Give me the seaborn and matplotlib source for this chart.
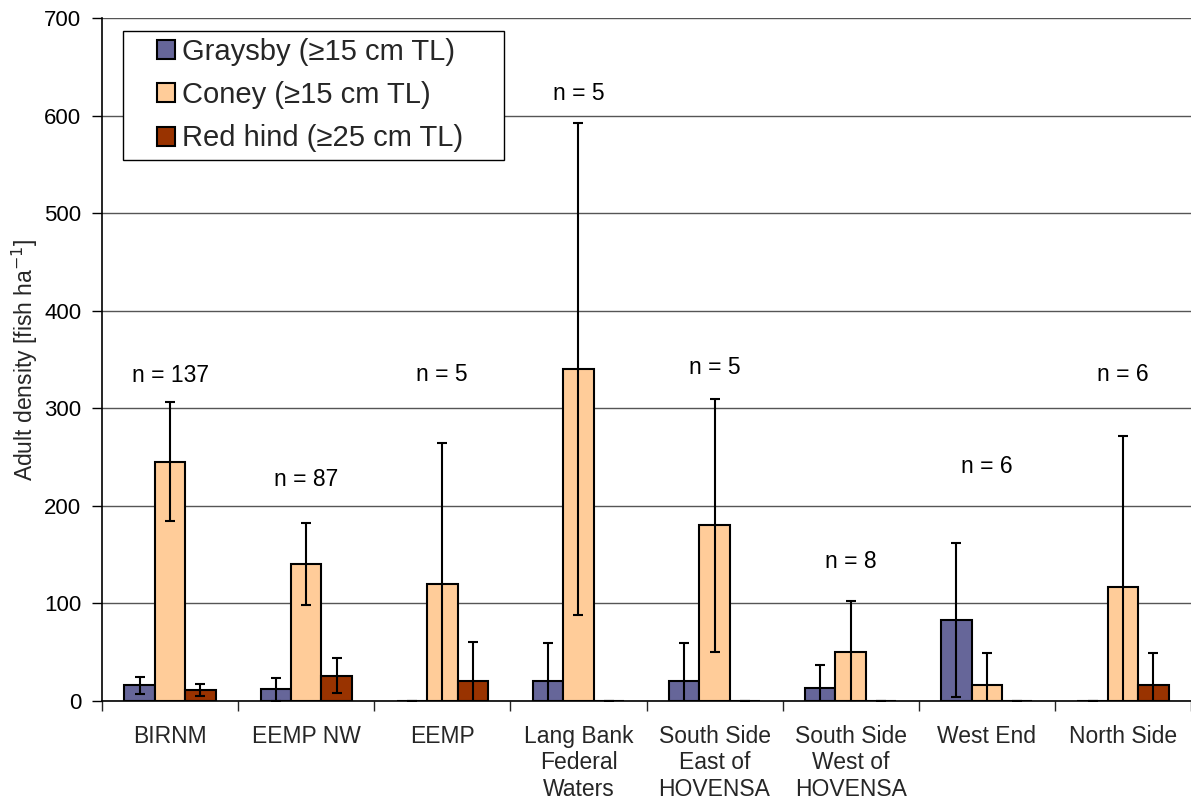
import matplotlib
matplotlib.use("Agg")
import matplotlib.pyplot as plt
from matplotlib.ticker import FixedLocator
from matplotlib.patches import Rectangle
import seaborn as sns
import pandas as pd
import numpy as np

sites = ["BIRNM", "EEMP NW", "EEMP", "Lang Bank\nFederal\nWaters",
         "South Side\nEast of\nHOVENSA", "South Side\nWest of\nHOVENSA",
         "West End", "North Side"]
species = ["Graysby (≥15 cm TL)", "Coney (≥15 cm TL)", "Red hind (≥25 cm TL)"]
graysby = [16, 12, 0, 20, 20, 13, 83, 0]
graysby_err = [9, 12, 0, 39, 39, 24, 79, 0]
coney = [245, 140, 120, 340, 180, 50, 16.5, 116.5]
coney_err = [61, 42, 144, 252, 130, 52, 33, 155]
red_hind = [11, 26, 20, 0, 0, 0, 0, 16.5]
red_hind_err = [6, 18, 40, 0, 0, 0, 0, 33]
n_labels = ["n = 137", "n = 87", "n = 5", "n = 5", "n = 5", "n = 8", "n = 6", "n = 6"]
n_label_y = [334, 227, 335, 623, 342, 143, 240, 335]
colors = ["#666699", "#FFCC99", "#993300"]
yticks = [0, 100, 200, 300, 400, 500, 600, 700]

sns.set_style("white")
plt.rcParams['font.family'] = ['Liberation Sans', 'DejaVu Sans']

values = [graysby, coney, red_hind]
errors = [graysby_err, coney_err, red_hind_err]
rows = []
for sp, vals in zip(species, values):
    for s, v in zip(sites, vals):
        rows.append({"site": s, "species": sp, "value": v})
df = pd.DataFrame(rows)

W, H = 1191, 801
fig = plt.figure(figsize=(W / 100, H / 100), dpi=100)
ax = fig.add_axes([102 / W, 100 / H, 1089 / W, 683 / H])

sns.barplot(data=df, x="site", y="value", hue="species", order=sites,
            hue_order=species, palette=colors, saturation=1, width=0.67,
            edgecolor="black", linewidth=1.5, errorbar=None, ax=ax, zorder=2)

for cont, errs in zip(ax.containers, errors):
    xs = [p.get_x() + p.get_width() / 2 for p in cont.patches]
    hs = [p.get_height() for p in cont.patches]
    ax.errorbar(xs, hs, yerr=errs, fmt='none', ecolor='black',
                elinewidth=1.5, capsize=3.6, capthick=1.5, zorder=3)

for i, (lab, yy) in enumerate(zip(n_labels, n_label_y)):
    ax.text(i, yy, lab, ha='center', va='center', fontsize=16.5, color='black')

ax.set_ylim(0, 700)
ax.set_xlim(-0.5, len(sites) - 0.5)
ax.set_yticks(yticks)
ax.tick_params(axis='y', labelsize=16, length=7, width=1, direction='out',
               left=True, colors='black', pad=8)
ax.tick_params(axis='x', which='major', length=0, labelsize=16.5, pad=17)
ax.xaxis.set_minor_locator(FixedLocator(np.arange(-0.5, len(sites), 1.0)))
ax.tick_params(axis='x', which='minor', length=7, width=1, direction='out', bottom=True)
ax.yaxis.grid(True, color='#555555', linewidth=1, zorder=0)
ax.set_axisbelow(True)
ax.set_xlabel("")
ax.set_ylabel("Adult density [fish ha$^{-1}$]", fontsize=16.5, labelpad=3)
for s in ['top', 'right']:
    ax.spines[s].set_visible(False)
for s in ['left', 'bottom']:
    ax.spines[s].set_color('black')
    ax.spines[s].set_linewidth(1.2)

leg = ax.legend(loc='upper left', bbox_to_anchor=(157 / W, 1 - 38 / H),
                bbox_transform=fig.transFigure, fontsize=21,
                frameon=False, handlelength=0.62, handleheight=0.62,
                handletextpad=0.25, borderpad=0, labelspacing=0.52,
                borderaxespad=0)
for h in leg.legend_handles:
    h.set_edgecolor('black')
    h.set_linewidth(1.5)

fig.canvas.draw()
bb = leg.get_window_extent()
x0 = bb.x0 - 34
x1 = bb.x1 + 40
y0 = bb.y0 - 8
y1 = bb.y1 + 7
frame = Rectangle((x0 / W, y0 / H), (x1 - x0) / W, (y1 - y0) / H,
                  transform=fig.transFigure, facecolor='white',
                  edgecolor='black', linewidth=1, zorder=4)
ax.add_artist(frame)
frame.set_clip_on(False)
leg.set_zorder(5)

fig.savefig("out.png", dpi=100)
